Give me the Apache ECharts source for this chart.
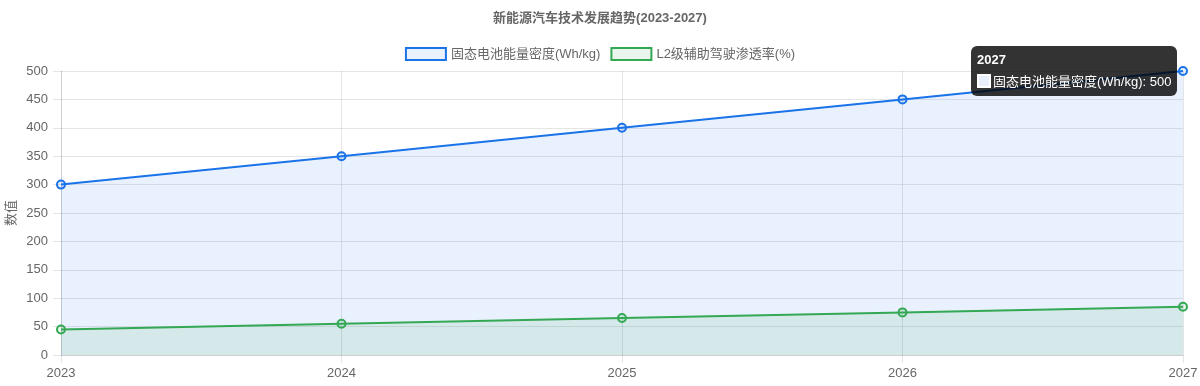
<!DOCTYPE html>
<html><head><meta charset="utf-8">
<script src="https://cdn.jsdelivr.net/npm/echarts@6/dist/echarts.min.js"></script>
<style>html,body{margin:0;padding:0;background:#fff}#c{width:1200px;height:386px}</style>
</head><body><div id="c"></div>
<script>
const categories = ['2023','2024','2025','2026','2027'];
const batteryDensity = [300, 350, 400, 450, 500];
const l2Penetration = [45, 55, 65, 75, 85];
const seriesNames = ['固态电池能量密度(Wh/kg)', 'L2级辅助驾驶渗透率(%)'];
const titleText = '新能源汽车技术发展趋势(2023-2027)';
const yAxisName = '数值';

const FONT = '"Liberation Sans", "Noto Sans CJK SC", sans-serif';
const blue = '#1a73e8', blueFill = 'rgba(26,115,232,0.1)';
const green = '#34a853', greenFill = 'rgba(52,168,83,0.1)';
const gridColor = 'rgba(0,0,0,0.1)';

const chart = echarts.init(document.getElementById('c'), null, {renderer:'canvas'});
chart.setOption({
  animation: false,
  title: { text: titleText, left: 'center', top: 7,
    textStyle: { fontFamily: FONT, fontSize: 13, fontWeight: 'bold', color: '#666' } },
  legend: {
    top: 42, left: 'center', itemWidth: 40, itemHeight: 12, itemGap: 10,
    textStyle: { fontFamily: FONT, fontSize: 13, color: '#666' },
    data: [
      { name: seriesNames[0], icon: 'rect', itemStyle: { color: blueFill, borderColor: blue, borderWidth: 2 } },
      { name: seriesNames[1], icon: 'rect', itemStyle: { color: greenFill, borderColor: green, borderWidth: 2 } }
    ]
  },
  tooltip: {
    trigger: 'item', alwaysShowContent: true,
    backgroundColor: 'rgba(0,0,0,0.8)', borderWidth: 0, padding: [6, 6],
    extraCssText: 'border-radius:6px;box-shadow:none;',
    position: function(){ return [971, 46]; },
    formatter: function(p){
      const fill = p.seriesIndex === 0 ? '#e8f0fd' : '#e6f4ea';
      const f = FONT.replace(/"/g,"'");
      return '<div style="font:bold 13px '+f+';color:#fff;line-height:16px;margin-bottom:6px">'+p.name+'</div>'+
        '<div style="font:13px '+f+';color:#fff;line-height:16px;white-space:nowrap">'+
        '<span style="display:inline-block;width:10px;height:10px;border:2px solid #fff;background:'+fill+';vertical-align:-2px;margin-right:2px"></span>'+
        p.seriesName+': '+p.value+'</div>';
    }
  },
  grid: { left: 61, right: 17, top: 71, bottom: 31, containLabel: false, outerBoundsMode: 'none' },
  xAxis: {
    type: 'category', data: categories, boundaryGap: false,
    axisLine: { show: true, lineStyle: { color: gridColor } },
    axisTick: { show: true, length: 8, lineStyle: { color: gridColor } },
    axisLabel: { fontFamily: FONT, fontSize: 13, color: '#666', margin: 12 },
    splitLine: { show: true, lineStyle: { color: gridColor } }
  },
  yAxis: {
    type: 'value', min: 0, max: 500, interval: 50,
    name: yAxisName, nameLocation: 'middle', nameGap: 43, nameRotate: 90, nameMoveOverlap: false,
    nameTextStyle: { fontFamily: FONT, fontSize: 13, color: '#666' },
    axisLine: { show: true, lineStyle: { color: gridColor } },
    axisTick: { show: true, length: 8, lineStyle: { color: gridColor } },
    axisLabel: { fontFamily: FONT, fontSize: 13, color: '#666', margin: 13 },
    splitLine: { show: true, lineStyle: { color: gridColor } }
  },
  series: [
    { name: seriesNames[0], type: 'line', data: batteryDensity,
      symbol: 'circle', symbolSize: 8,
      lineStyle: { color: blue, width: 2 },
      itemStyle: { color: blueFill, borderColor: blue, borderWidth: 2 },
      areaStyle: { color: blueFill, opacity: 1, origin: 'start' },
      emphasis: { scale: 1.3, itemStyle: { color: blueFill, borderColor: blue, borderWidth: 2 } } },
    { name: seriesNames[1], type: 'line', data: l2Penetration,
      symbol: 'circle', symbolSize: 8,
      lineStyle: { color: green, width: 2 },
      itemStyle: { color: greenFill, borderColor: green, borderWidth: 2 },
      areaStyle: { color: greenFill, opacity: 1, origin: 'start' },
      emphasis: { scale: 1.3 } }
  ]
});
chart.dispatchAction({ type: 'showTip', seriesIndex: 0, dataIndex: 4 });
</script></body></html>
